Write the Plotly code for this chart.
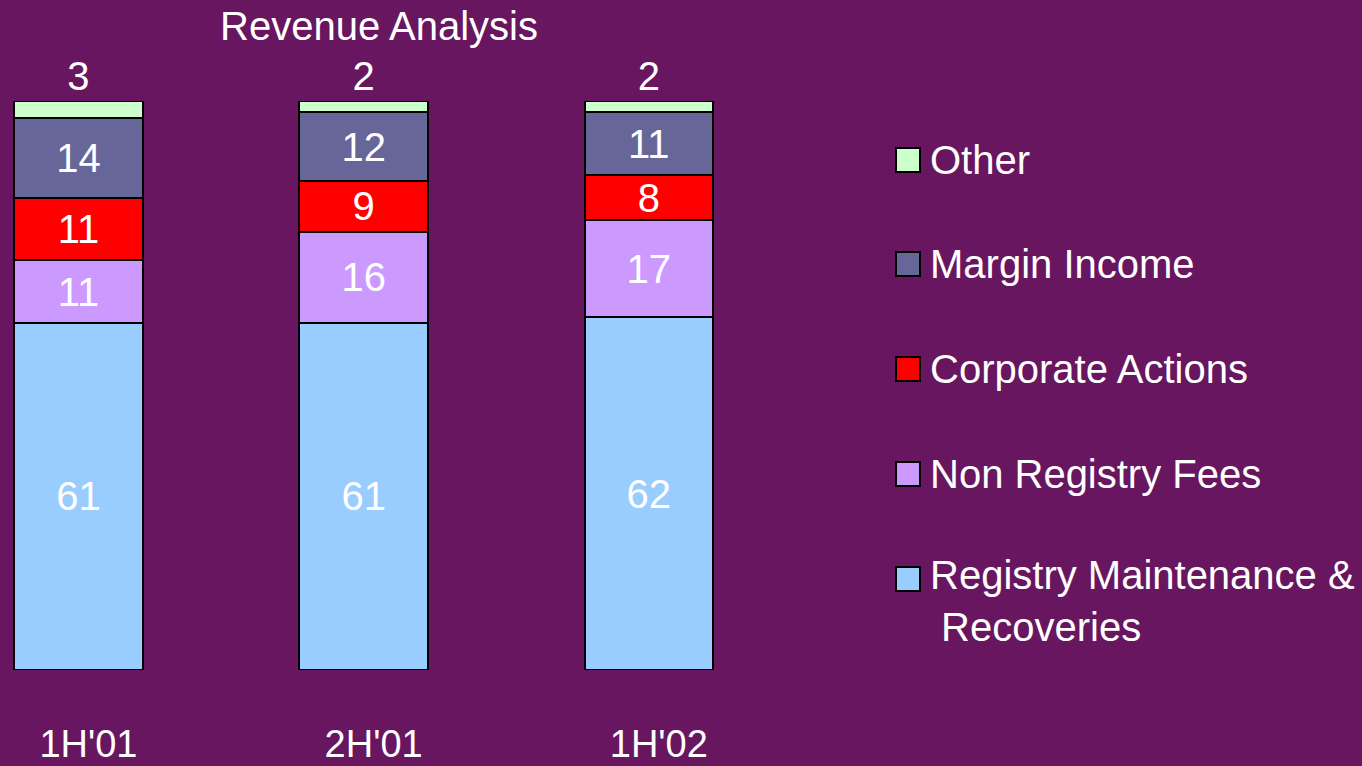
import plotly.graph_objects as go

categories = ["1H'01", "2H'01", "1H'02"]
series_names = ["Registry Maintenance & Recoveries", "Non Registry Fees",
                "Corporate Actions", "Margin Income", "Other"]
registry = [61, 61, 62]
non_registry = [11, 16, 17]
corporate = [11, 9, 8]
margin = [14, 12, 11]
other = [3, 2, 2]
values = [registry, non_registry, corporate, margin, other]
colors = ["#99CCFF", "#CC99FF", "#FF0000", "#666699", "#CCFFCC"]
legend_labels = ["Registry Maintenance &<br> Recoveries", "Non Registry Fees",
                 "Corporate Actions", "Margin Income", "Other"]

BG = "#67165F"
FONT = "Liberation Sans, Arial, sans-serif"
W, H = 1362, 766
L, R, T, B = 0, 562, 101, 96
PW, PH = W - L - R, H - T - B

fig = go.Figure()
for i, (name, vals, col) in enumerate(zip(series_names, values, colors)):
    top = (i == len(series_names) - 1)
    fig.add_trace(go.Bar(
        x=categories, y=vals, name=name,
        marker=dict(color=col, line=dict(color="black", width=2)),
        width=0.45,
        text=vals, texttemplate="%{y}",
        textposition="outside" if top else "inside",
        insidetextanchor="middle",
        constraintext="none",
        textangle=0,
        cliponaxis=False,
        textfont=dict(color="white", size=40, family=FONT),
        outsidetextfont=dict(color="white", size=40, family=FONT),
        insidetextfont=dict(color="white", size=40, family=FONT),
        showlegend=False,
        hoverinfo="skip",
    ))

def px_x(px):
    return (px - L) / PW

def px_y(py):
    return (H - B - py) / PH

# manual legend (top to bottom: reversed stack order)
centers = [579, 474, 369, 264, 160]
for lab, col, cy in zip(legend_labels, colors, centers):
    fig.add_shape(type="rect", xref="paper", yref="paper",
                  x0=px_x(896), x1=px_x(920), y0=px_y(cy + 12), y1=px_y(cy - 12),
                  fillcolor=col, line=dict(color="black", width=2))
    multi = "<br>" in lab
    fig.add_annotation(xref="paper", yref="paper", x=px_x(928),
                       y=px_y(cy + 22 if multi else cy),
                       text=lab, showarrow=False, xanchor="left", yanchor="middle",
                       align="left",
                       font=dict(color="white", size=40, family=FONT))

fig.update_layout(
    width=W, height=H,
    paper_bgcolor=BG, plot_bgcolor=BG,
    barmode="stack",
    margin=dict(l=L, r=R, t=T, b=B),
    title=dict(text="Revenue Analysis", x=379 / W, xanchor="center",
               y=1 - 26 / H, yanchor="middle", xref="container", yref="container",
               font=dict(color="white", size=40, family=FONT)),
    xaxis=dict(range=[-0.275, 2.53], showgrid=False, zeroline=False, showline=False,
               ticks="", tickfont=dict(color="white", size=38, family=FONT),
               ticklabelstandoff=48, ticklabelshift=10),
    yaxis=dict(range=[0, 100], visible=False),
    showlegend=False,
)

fig.write_html("out.html", config={"displayModeBar": False},
               post_script="document.body.style.margin='0';document.body.style.background='%s';" % BG)
